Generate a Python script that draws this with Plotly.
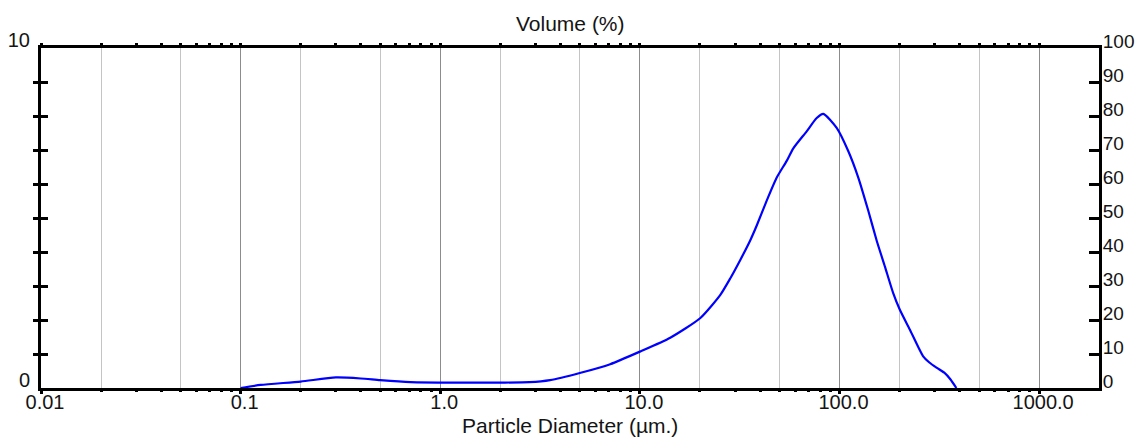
import plotly.graph_objects as go

# Data
diameter_um = [0.1, 0.126, 0.2, 0.3, 0.4, 0.5, 0.71, 1.0, 2.0, 2.8, 3.55, 5.0, 7.1, 10.0,
               14.2, 20.1, 25.3, 28.4, 31.8, 35.7, 38.5, 43.2, 48.5, 54.4, 58.7, 68.5,
               76.9, 83.0, 96.8, 110.6, 124.2, 139.3, 153.5, 168.9, 185.8, 200.6, 225,
               262, 282, 306, 335, 360, 385]
volume_pct = [0, 0.09, 0.19, 0.31, 0.28, 0.23, 0.17, 0.16, 0.16, 0.17, 0.23, 0.44, 0.70, 1.07,
              1.48, 2.06, 2.74, 3.23, 3.76, 4.34, 4.78, 5.51, 6.19, 6.68, 7.05, 7.55,
              7.94, 8.06, 7.65, 6.97, 6.19, 5.22, 4.34, 3.57, 2.79, 2.30, 1.72,
              0.94, 0.75, 0.60, 0.45, 0.25, 0]

decade_ticks = [0.01, 0.1, 1, 10, 100, 1000]
decade_labels = ["0.01", "0.1", "1.0", "10.0", "100.0", "1000.0"]
minor_grid = [m * d for d in [0.01, 0.1, 1, 10, 100, 1000] for m in (2, 5)]
tick_dots = [m * d for d in [0.01, 0.1, 1, 10, 100, 1000] for m in range(1, 10)]
left_ticks = list(range(1, 10))
right_ticks = list(range(0, 101, 10))

XR = [-2, 3.3]
FONT = "Liberation Sans, Arial, sans-serif"
TXT = "#141414"

fig = go.Figure()
fig.add_trace(go.Scatter(x=diameter_um, y=volume_pct, mode="lines",
                         line=dict(color="#0000ff", width=2.2, shape="spline", smoothing=0.6),
                         xaxis="x", yaxis="y", showlegend=False, hoverinfo="skip"))
# empty helper traces so overlay axes are rendered
for xa, ya in [("x2", "y"), ("x3", "y"), ("x4", "y"), ("x", "y2"), ("x", "y3"), ("x", "y4")]:
    fig.add_trace(go.Scatter(x=[], y=[], xaxis=xa, yaxis=ya, showlegend=False, hoverinfo="skip"))

common_x = dict(type="log", range=XR, fixedrange=True, zeroline=False, automargin=False)

fig.update_layout(
    width=1137, height=437,
    margin=dict(l=41, r=38, t=48, b=49),
    paper_bgcolor="white", plot_bgcolor="white",
    font=dict(family=FONT, size=20, color=TXT),
    xaxis=dict(**common_x, tickmode="array", tickvals=decade_ticks, ticktext=decade_labels,
               showgrid=True, gridcolor="#8c8c8c", gridwidth=1,
               showline=True, linecolor="black", linewidth=3,
               ticks="outside", ticklen=3, tickwidth=3, tickcolor="black",
               ticklabelshift=4, ticklabelstandoff=-9, tickfont=dict(size=20, color=TXT)),
    xaxis2=dict(**common_x, overlaying="x", side="bottom", anchor="y", tickmode="array",
                tickvals=tick_dots, showticklabels=False, showgrid=False, showline=False,
                ticks="outside", ticklen=3, tickwidth=3, tickcolor="black"),
    xaxis3=dict(**common_x, overlaying="x", side="top", anchor="y", tickmode="array",
                tickvals=tick_dots, showticklabels=False, showgrid=False,
                showline=True, linecolor="black", linewidth=3,
                ticks="outside", ticklen=2, tickwidth=3, tickcolor="black"),
    xaxis4=dict(**common_x, overlaying="x", side="bottom", anchor="y", tickmode="array",
                tickvals=minor_grid, showticklabels=False, showgrid=True,
                gridcolor="#c4c4c4", gridwidth=1, showline=False, ticks=""),
    yaxis=dict(range=[0, 10], fixedrange=True, zeroline=False, showgrid=False, automargin=False,
               tickmode="array", tickvals=[0, 10], ticktext=["0", "10"], ticks="",
               showline=True, linecolor="black", linewidth=3,
               ticklabelshift=-8, ticklabelstandoff=4, tickfont=dict(size=20, color=TXT)),
    yaxis3=dict(range=[0, 10], fixedrange=True, overlaying="y", side="left", anchor="x",
                automargin=False,
                zeroline=False, showgrid=False, showline=False, tickmode="array",
                tickvals=left_ticks, showticklabels=False,
                ticks="outside", ticklen=7, tickwidth=2.5, tickcolor="black"),
    yaxis4=dict(range=[0, 10], fixedrange=True, overlaying="y", side="left", anchor="x",
                automargin=False,
                zeroline=False, showgrid=False, showline=False, tickmode="array",
                tickvals=left_ticks, showticklabels=False,
                ticks="inside", ticklen=7, tickwidth=2.5, tickcolor="black"),
    yaxis2=dict(range=[0, 100], fixedrange=True, overlaying="y", side="right", anchor="x",
                automargin=False,
                zeroline=False, showgrid=False, tickmode="array", tickvals=right_ticks,
                showline=True, linecolor="black", linewidth=3,
                ticks="inside", ticklen=10, tickwidth=3, tickcolor="black",
                ticklabelshift=-7, ticklabelstandoff=-3, tickfont=dict(size=19, color=TXT)),
    annotations=[
        dict(text="Volume (%)", xref="paper", yref="paper", x=0.5, y=1,
             xanchor="center", yanchor="middle", yshift=25, showarrow=False,
             font=dict(family=FONT, size=21, color=TXT)),
        dict(text="Particle Diameter (µm.)", xref="paper", yref="paper", x=0.5, y=0,
             xanchor="center", yanchor="middle", yshift=-37, showarrow=False,
             font=dict(family=FONT, size=21, color=TXT)),
    ],
)

fig.write_html("out.html")
